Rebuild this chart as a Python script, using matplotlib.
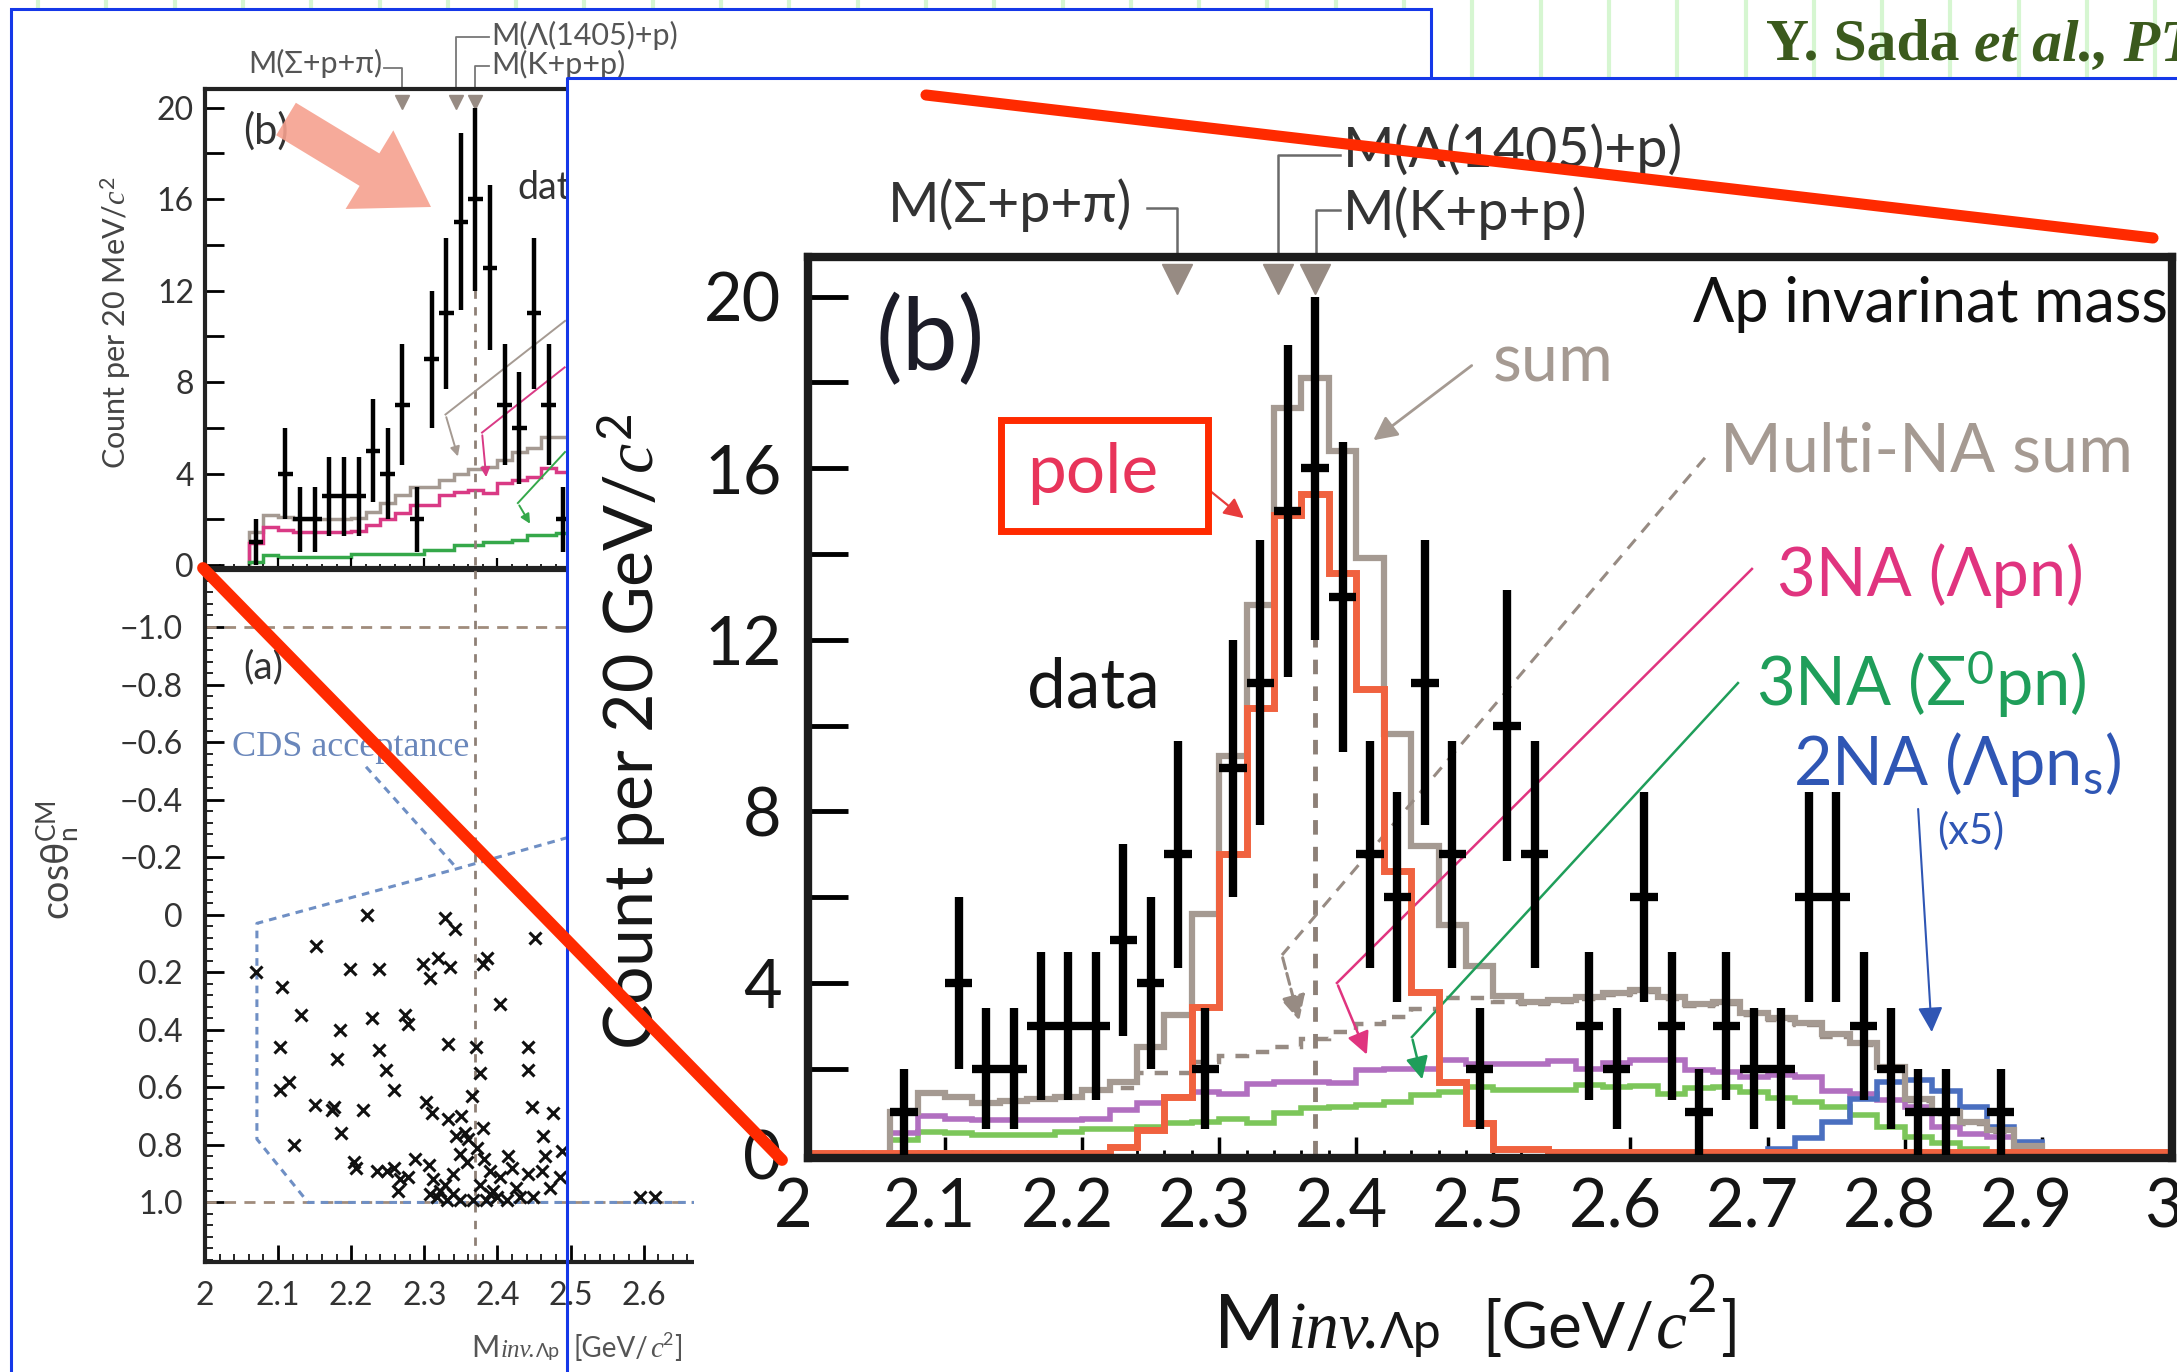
import numpy as np
import matplotlib
matplotlib.use("Agg")
import matplotlib.pyplot as plt
import matplotlib.transforms as mtransforms
from matplotlib.patches import Polygon, Rectangle, FancyArrow
from matplotlib.ticker import MultipleLocator, FuncFormatter

W, H = 2177, 1372

plt.rcParams['font.family'] = ['Lato', 'DejaVu Sans']
plt.rcParams['mathtext.fontset'] = 'custom'
plt.rcParams['mathtext.rm'] = 'Lato'
plt.rcParams['mathtext.it'] = 'Liberation Serif:italic'
plt.rcParams['mathtext.bf'] = 'Lato:bold'

# ---- Lambda-p invariant mass spectrum (20 MeV bins) ----
edges = np.round(np.arange(2.0, 3.0001, 0.02), 2)

mass = [2.07, 2.11, 2.13, 2.15, 2.17, 2.19, 2.21, 2.23, 2.25, 2.27,
        2.29, 2.31, 2.33, 2.35, 2.37, 2.39, 2.41, 2.43, 2.45, 2.47,
        2.49, 2.51, 2.53, 2.57, 2.59, 2.61, 2.63, 2.65, 2.67, 2.69,
        2.71, 2.73, 2.75, 2.77, 2.79, 2.81, 2.83, 2.87]
counts = np.array([1, 4, 2, 2, 3, 3, 3, 5, 4, 7,
                   2, 9, 11, 15, 16, 13, 7, 6, 11, 7,
                   2, 10, 7, 3, 2, 6, 3, 1, 3, 2,
                   2, 6, 6, 3, 2, 1, 1, 1])

fit_sum = [0, 0, 0, 1.0, 1.44, 1.35, 1.2, 1.25, 1.3, 1.35,
           1.5, 1.7, 2.5, 3.25, 5.6, 9.3, 12.8, 17.4, 18.1, 16.4,
           13.9, 9.8, 7.2, 5.35, 4.4, 3.7, 3.56, 3.6, 3.68, 3.76,
           3.83, 3.68, 3.52, 3.56, 3.3, 3.18, 3.06, 2.8, 2.6, 2.05,
           1.3, 1.0, 0.77, 0.57, 0.2, 0, 0, 0, 0, 0]
pole = [0.03, 0.03, 0.03, 0.03, 0.03, 0.03, 0.03, 0.03, 0.03, 0.03,
        0.03, 0.18, 0.57, 1.35, 3.45, 7.0, 10.4, 14.9, 15.4, 13.55,
        10.85, 6.6, 3.8, 1.7, 0.73, 0.14, 0.14, 0.05, 0.05, 0.05,
        0.05, 0.05, 0.05, 0.05, 0.05, 0.05, 0.05, 0.05, 0.05, 0.05,
        0.05, 0.05, 0.05, 0.05, 0.05, 0.05, 0.05, 0.05, 0.05, 0.05]
multi_na = [0, 0, 0, 1.0, 1.44, 1.35, 1.2, 1.25, 1.3, 1.35,
            1.5, 1.55, 1.9, 1.9, 2.15, 2.3, 2.4, 2.5, 2.7, 2.85,
            3.05, 3.2, 3.4, 3.65, 3.65, 3.56, 3.5, 3.55, 3.63, 3.71,
            3.78, 3.63, 3.47, 3.51, 3.25, 3.13, 3.01, 2.75, 2.55, 2.0,
            1.25, 0.95, 0.72, 0.52, 0.15, 0, 0, 0, 0, 0]
na3_lpn = [0, 0, 0, 0.5, 0.9, 0.84, 0.8, 0.8, 0.8, 0.8,
           0.84, 1.04, 1.21, 1.35, 1.46, 1.42, 1.65, 1.7, 1.7, 1.66,
           1.97, 2.0, 2.0, 2.2, 2.1, 2.1, 2.1, 2.17, 2.0, 2.13,
           2.2, 2.2, 1.97, 1.93, 1.81, 1.85, 1.81, 1.47, 1.42, 1.27,
           1.1, 0.65, 0.49, 0.42, 0.18, 0, 0, 0, 0, 0]
na3_s0pn = [0, 0, 0, 0.34, 0.53, 0.5, 0.45, 0.45, 0.45, 0.53,
            0.6, 0.6, 0.65, 0.73, 0.76, 0.84, 0.73, 0.96, 1.08, 1.12,
            1.15, 1.23, 1.39, 1.46, 1.58, 1.5, 1.5, 1.5, 1.62, 1.58,
            1.6, 1.42, 1.54, 1.58, 1.46, 1.31, 1.23, 1.11, 0.92, 0.65,
            0.42, 0.26, 0.14, 0, 0, 0, 0, 0, 0, 0]
na2_lpns_x5 = [0, 0, 0, 0, 0, 0, 0, 0, 0, 0,
               0, 0, 0, 0, 0, 0, 0, 0, 0, 0,
               0, 0, 0, 0, 0, 0, 0, 0, 0, 0,
               0, 0, 0, 0, 0, 0.14, 0.38, 0.75, 1.3, 1.68,
               1.74, 1.47, 1.11, 0.65, 0.3, 0.04, 0, 0, 0, 0]

# thresholds M(Sigma+p+pi), M(Lambda(1405)+p), M(K+p+p)
thresholds = [2.269, 2.343, 2.370]

# ---- earlier version of the spectrum (left figure) ----
edges_old = np.round(np.arange(2.0, 2.5001, 0.02), 2)
sum_old = [0, 0, 0, 1.46, 2.19, 2.1, 2.0, 2.0, 2.0, 2.0,
           2.05, 2.3, 2.7, 3.06, 3.43, 3.43, 3.7, 4.0, 4.2, 4.3,
           4.6, 4.96, 5.1, 5.6, 5.6]
lpn_old = [0, 0, 0, 0.95, 1.68, 1.55, 1.45, 1.45, 1.45, 1.45,
           1.5, 1.75, 2.0, 2.26, 2.62, 2.62, 3.06, 3.2, 3.28, 3.13,
           3.57, 3.7, 3.86, 4.23, 4.08]
s0pn_old = [0, 0, 0, 0.15, 0.44, 0.36, 0.36, 0.36, 0.36, 0.36,
            0.5, 0.5, 0.5, 0.5, 0.5, 0.66, 0.66, 0.87, 0.87, 1.02,
            1.02, 1.09, 1.31, 1.31, 1.41]

# event-by-event neutron angle vs invariant mass
cos_mass = [2.221, 2.328, 2.342, 2.451, 2.152, 2.070, 2.198, 2.238, 2.298, 2.319,
            2.335, 2.308, 2.380, 2.386, 2.106, 2.132, 2.229, 2.274, 2.278, 2.185,
            2.404, 2.102, 2.180, 2.238, 2.248, 2.333, 2.371, 2.376, 2.442, 2.442,
            2.102, 2.115, 2.259, 2.150, 2.176, 2.174, 2.216, 2.303, 2.310, 2.365,
            2.333, 2.350, 2.447, 2.476, 2.186, 2.122, 2.380, 2.462, 2.489, 2.204,
            2.207, 2.235, 2.249, 2.258, 2.267, 2.264, 2.278, 2.287, 2.306, 2.312,
            2.317, 2.328, 2.339, 2.344, 2.356, 2.360, 2.349, 2.358, 2.372, 2.381,
            2.390, 2.394, 2.404, 2.415, 2.420, 2.426, 2.442, 2.449, 2.461, 2.465,
            2.472, 2.486, 2.331, 2.349, 2.367, 2.385, 2.399, 2.321, 2.376, 2.339,
            2.390, 2.431, 2.308, 2.413, 2.595, 2.615]
cos_n = [0.00, 0.01, 0.05, 0.08, 0.11, 0.20, 0.19, 0.19, 0.17, 0.15,
         0.18, 0.22, 0.17, 0.15, 0.25, 0.35, 0.36, 0.35, 0.38, 0.40,
         0.31, 0.46, 0.50, 0.47, 0.54, 0.45, 0.46, 0.55, 0.46, 0.54,
         0.61, 0.58, 0.61, 0.66, 0.67, 0.68, 0.68, 0.65, 0.69, 0.63,
         0.71, 0.70, 0.67, 0.69, 0.76, 0.80, 0.74, 0.77, 0.82, 0.86,
         0.88, 0.89, 0.89, 0.88, 0.92, 0.96, 0.91, 0.85, 0.87, 0.92,
         0.98, 0.94, 0.90, 0.77, 0.76, 0.78, 0.83, 0.86, 0.81, 0.85,
         0.89, 0.96, 0.91, 0.84, 0.88, 0.95, 0.90, 0.98, 0.89, 0.84,
         0.95, 0.91, 0.99, 0.99, 0.99, 0.99, 0.98, 0.96, 0.94, 0.97,
         0.97, 0.98, 0.97, 0.99, 0.98, 0.98]

# CDS acceptance boundary
cds_mass = [2.75, 2.345, 2.071, 2.071, 2.141, 2.95]
cds_cos = [-0.45, -0.16, 0.03, 0.78, 1.0, 1.0]

GREY = '#a59a92'
DASH_GREY = '#978b83'
POLE_RED = '#f0623f'
PURPLE = '#b16fc0'
GREEN_LINE = '#7cc65a'
BLUE_LINE = '#4a6fc0'
MAGENTA = '#e0347f'
GREEN_TEXT = '#1f9e5a'
BLUE_TEXT = '#2f56b4'
PANEL_BLUE = '#1538e8'
MARK_RED = '#ff2a00'
INK = '#161616'

fig = plt.figure(figsize=(W / 100, H / 100), dpi=100)
renderer = fig.canvas.get_renderer()


def rect(x0, y0, x1, y1):
    return [x0 / W, 1 - y1 / H, (x1 - x0) / W, (y1 - y0) / H]


def pixel_axes(z):
    a = fig.add_axes([0, 0, 1, 1])
    a.set_xlim(0, W)
    a.set_ylim(H, 0)
    a.set_axis_off()
    a.set_zorder(z)
    return a


def chain(ax, x, y, parts, trans, ha='left', **common):
    # lay out text pieces of different fonts one after another on one baseline
    placed, width = [], 0.0
    for s, kw in parts:
        kw = dict(kw)
        dy = kw.pop('dy', 0)
        width += kw.pop('gap', 0)
        props = {**common, **kw}
        t = ax.text(0, y - dy, s, transform=trans, ha='left', va='baseline',
                    clip_on=False, **props)
        placed.append((t, width))
        width += t.get_window_extent(renderer).width
    x0 = x - width / 2 if ha == 'center' else x
    for t, off in placed:
        t.set_x(x0 + off)


def hist(ax, values, bin_edges, **kw):
    # draw a step histogram only over the bins where it is populated
    values = np.asarray(values, dtype=float)
    idx = np.nonzero(values)[0]
    lo, hi = idx[0], idx[-1] + 1
    return ax.stairs(values[lo:hi], bin_edges[lo:hi + 1], **kw)


def mass_label(v, pos=None):
    s = f'{v:.1f}'
    return s[:-2] if s.endswith('.0') else s


def every_fourth(v, pos=None):
    return f'{v:.0f}' if int(round(v)) % 4 == 0 else ''


def cos_label(v, pos=None):
    if abs(v) < 1e-9:
        return '0'
    return f'{v:.1f}'.replace('-', '\u2212')


# ---- slide background and left figure frame ----
bg = pixel_axes(0)
for gx in np.arange(38, W, 68.3):
    bg.plot([gx, gx], [0, H], color='#d6f6d1', lw=3, zorder=0)
bg.add_patch(Rectangle((11, 9), 1420, H, facecolor='white',
                       edgecolor=PANEL_BLUE, lw=2.2, zorder=1))

# ---- left figure: (b) spectrum ----
axb = fig.add_axes(rect(205, 89.2, 936, 569.6))
axb.set_zorder(1)
axb.patch.set_visible(False)
hist(axb, sum_old, edges_old, color=GREY, lw=2.5)
hist(axb, lpn_old, edges_old, color='#d93a85', lw=2.5)
hist(axb, s0pn_old, edges_old, color='#35a84a', lw=2.5)
axb.plot([2.37, 2.37], [0, 20], ls=(0, (3, 3)), color='#8e8076', lw=2)
axb.errorbar(mass, counts, yerr=np.sqrt(counts), xerr=0.01, fmt='none',
             ecolor='black', elinewidth=3.2, capsize=0, zorder=4)
axb.plot(thresholds, [20.25] * 3, 'v', ms=10, color=DASH_GREY, clip_on=False)
axb.set_xlim(2, 3)
axb.set_ylim(-0.2, 20.8)
axb.yaxis.set_major_locator(MultipleLocator(2))
axb.yaxis.set_major_formatter(FuncFormatter(every_fourth))
axb.xaxis.set_major_locator(MultipleLocator(0.1))
axb.xaxis.set_minor_locator(MultipleLocator(0.02))
axb.tick_params(axis='y', direction='in', length=14, width=2, labelsize=23,
                pad=8, labelcolor='#333')
axb.tick_params(axis='x', which='major', direction='in', length=9, width=1.6,
                labelbottom=False)
axb.tick_params(axis='x', which='minor', direction='in', length=4, width=1.2)
for sp in axb.spines.values():
    sp.set_linewidth(3)
    sp.set_color('#222')

axb.text(2.052, 18.4, '(b)', fontsize=30, color='#333', clip_on=False)
axb.text(2.428, 16.0, 'data', fontsize=27, color='#333', clip_on=False)
axb.text(2.242, 21.5, 'M(Σ+p+π)', fontsize=22, color='#555', ha='right', clip_on=False)
axb.text(2.391, 22.75, 'M(Λ(1405)+p)', fontsize=22, color='#555', clip_on=False)
axb.text(2.391, 21.45, 'M(K+p+p)', fontsize=22, color='#555', clip_on=False)
axb.plot([2.245, 2.269, 2.269], [21.73, 21.73, 20.8], color='#777', lw=1.3, clip_on=False)
axb.plot([2.389, 2.343, 2.343], [23.08, 23.08, 20.8], color='#777', lw=1.3, clip_on=False)
axb.plot([2.389, 2.370, 2.370], [21.8, 21.8, 20.8], color='#777', lw=1.3, clip_on=False)
for (x0, y0), (x1, y1), (x2, y2), c in [((2.4925, 10.67), (2.329, 6.58), (2.347, 4.63), GREY),
                                       ((2.492, 8.64), (2.379, 5.79), (2.385, 3.72), '#d93a85'),
                                       ((2.4925, 4.94), (2.428, 2.71), (2.4466, 1.70), '#35a84a')]:
    axb.plot([x0, x1], [y0, y1], color=c, lw=1.4)
    axb.annotate('', xy=(x2, y2), xytext=(x1, y1),
                 arrowprops=dict(arrowstyle='-|>', color=c, lw=1.4, mutation_scale=14))
axb.text(116, 323, r'Count per 20 MeV/$\mathit{c}^{2}$', transform=bg.transData,
         rotation=90, ha='center', va='center', fontsize=22, color='#444', clip_on=False)

# ---- left figure: (a) cos(theta_n) vs mass ----
axa = fig.add_axes(rect(205, 568, 936, 1262))
axa.set_zorder(1)
axa.patch.set_visible(False)
axa.set_xlim(2, 3)
axa.set_ylim(1.207, -1.205)
for yy in (-1.0, 1.0):
    axa.axhline(yy, ls=(0, (4, 3)), color='#a08c7c', lw=2)
axa.axvline(2.37, ls=(0, (3, 3)), color='#8e8076', lw=2)
axa.plot(cds_mass, cds_cos, ls=(0, (2.5, 2)), color='#6f8fc4', lw=2.2)
axa.plot([2.2203, 2.345], [-0.514, -0.16], ls=(0, (2.5, 2)), color='#6f8fc4', lw=2.2)
axa.plot(cos_mass, cos_n, 'x', ls='none', color='#111', ms=8, mew=2.2)
axa.text(2.052, -0.82, '(a)', fontsize=28, color='#333', clip_on=False)
axa.text(2.037, -0.55, 'CDS acceptance', fontsize=26, color='#6a87bb',
         family='Liberation Serif', clip_on=False)
axa.set_yticks(np.round(np.arange(-1.0, 1.001, 0.2), 1))
axa.yaxis.set_minor_locator(MultipleLocator(0.04))
axa.yaxis.set_major_formatter(FuncFormatter(cos_label))
axa.xaxis.set_major_locator(MultipleLocator(0.1))
axa.xaxis.set_minor_locator(MultipleLocator(0.02))
axa.xaxis.set_major_formatter(FuncFormatter(mass_label))
axa.tick_params(axis='y', which='major', direction='in', length=14, width=2,
                labelsize=23, pad=16, labelcolor='#333')
axa.tick_params(axis='y', which='minor', direction='in', length=6, width=1.2)
axa.tick_params(axis='x', which='major', direction='in', length=12, width=2,
                labelsize=23, pad=14, labelcolor='#333')
axa.tick_params(axis='x', which='minor', direction='in', length=6, width=1.2)
for sp in axa.spines.values():
    sp.set_linewidth(3)
    sp.set_color('#222')
axa.text(58, 860, r'cosθ$_{\mathrm{n}}^{\mathrm{CM}}$', transform=bg.transData,
         rotation=90, ha='center', va='center', fontsize=27, color='#444', clip_on=False)
chain(axa, 577, 1357,
      [('M', dict(fontsize=22)),
       ('inv.', dict(fontsize=18, family='Liberation Serif', style='italic', gap=1)),
       ('Λp', dict(fontsize=14)),
       ('[GeV/', dict(fontsize=20, gap=14)),
       ('c', dict(fontsize=21, family='Liberation Serif', style='italic', gap=1)),
       ('2', dict(fontsize=13, dy=12)),
       (']', dict(fontsize=20, gap=1))],
      bg.transData, ha='center', color='#555')

# ---- right figure: zoomed spectrum ----
cover = pixel_axes(2)
cover.add_patch(Polygon([(567, 78), (W, 78), (W, H), (694, H), (694, 1185), (567, 1185)],
                        closed=True, facecolor='white', edgecolor='none'))
cover.plot([567, 567, W], [H, 78, 78], color=PANEL_BLUE, lw=2.2)

ax = fig.add_axes(rect(807.9, 256.6, 2172, 1158))
ax.set_zorder(3)
ax.patch.set_visible(False)

hist(ax, multi_na, edges, color=DASH_GREY, lw=3.2, ls=(0, (3, 2.5)), zorder=1.5)
hist(ax, na3_s0pn, edges, color=GREEN_LINE, lw=4, zorder=1.7)
hist(ax, na3_lpn, edges, color=PURPLE, lw=4, zorder=1.8)
hist(ax, na2_lpns_x5, edges, color=BLUE_LINE, lw=4, zorder=1.9)
hist(ax, fit_sum, edges, color=GREY, lw=4.5, zorder=2.0)
hist(ax, pole, edges, color=POLE_RED, lw=5, zorder=2.2)
ax.plot([2.37, 2.37], [0, 19.9], ls=(0, (3, 2.5)), color='#8d8077', lw=3.5, zorder=1.6)
ax.errorbar(mass, counts, yerr=np.sqrt(counts), xerr=0.01, fmt='none',
            ecolor='black', elinewidth=6, capsize=0, zorder=6)

ax.set_xlim(2.0, 2.995)
ax.set_ylim(-0.08, 20.93)
ax.xaxis.set_major_locator(MultipleLocator(0.1))
ax.xaxis.set_minor_locator(MultipleLocator(0.02))
ax.xaxis.set_major_formatter(FuncFormatter(mass_label))
ax.yaxis.set_major_locator(MultipleLocator(2))
ax.yaxis.set_major_formatter(FuncFormatter(every_fourth))
ax.tick_params(axis='x', which='major', direction='in', length=15, width=2.5,
               labelsize=48, pad=14, labelcolor=INK)
ax.tick_params(axis='x', which='minor', direction='in', length=6, width=2)
ax.tick_params(axis='y', direction='in', length=29, width=3.5, labelsize=48,
               pad=19, labelcolor=INK)
for sp in ax.spines.values():
    sp.set_linewidth(6)
    sp.set_color('#1c1c1c')

shift = mtransforms.ScaledTranslation(-15 / 100, 0, fig.dpi_scale_trans)
for lab in ax.get_xticklabels():
    lab.set_transform(lab.get_transform() + shift)
ax.text(3.0, 0, '3', fontsize=48, color=INK, ha='center', va='top', clip_on=False,
        transform=ax.get_xaxis_transform()
        + mtransforms.ScaledTranslation(-15 / 100, -14 / 72, fig.dpi_scale_trans))

ax.set_ylabel(r'Count per 20 GeV/$\mathit{c}^{2}$', fontsize=49, color=INK, va='center')
ax.yaxis.set_label_coords(-0.129, 0.4726)
chain(cover, 1477, 1348,
      [('M', dict(fontsize=55)),
       ('inv.', dict(fontsize=48, family='Liberation Serif', style='italic', gap=2)),
       ('Λp', dict(fontsize=36)),
       ('[GeV/', dict(fontsize=46, gap=40)),
       ('c', dict(fontsize=50, family='Liberation Serif', style='italic', gap=2)),
       ('2', dict(fontsize=38, dy=36)),
       (']', dict(fontsize=46, gap=3))],
      cover.transData, ha='center', color=INK)

# threshold markers on the top frame
ax.plot(thresholds, [20.4] * 3, 'v', ms=22, ls='none', color=DASH_GREY,
        clip_on=False, zorder=7)
ax.plot([2.2477, 2.269, 2.269], [22.07, 22.07, 20.93], color='#6a6a6a', lw=1.8, clip_on=False)
ax.plot([2.388, 2.343, 2.343], [23.3, 23.3, 20.93], color='#6a6a6a', lw=1.8, clip_on=False)
ax.plot([2.388, 2.3703, 2.3703], [22.02, 22.02, 20.93], color='#6a6a6a', lw=1.8, clip_on=False)
ax.text(2.2365, 21.74, 'M(Σ+p+π)', fontsize=40, color='#333', ha='right', clip_on=False)
ax.text(2.390, 23.03, 'M(Λ(1405)+p)', fontsize=40, color='#333', clip_on=False)
ax.text(2.390, 21.55, 'M(K+p+p)', fontsize=40, color='#333', clip_on=False)

# labels inside the frame
ax.text(2.049, 18.29, '(b)', fontsize=72, color='#1c1c28')
ax.text(2.992, 19.41, 'Λp invarinat mass', fontsize=44, color='#111', ha='right')
ax.text(2.4997, 18.01, 'sum', fontsize=48, color=GREY)
ax.text(2.665, 15.92, 'Multi-NA sum', fontsize=48, color=GREY)
ax.text(2.160, 15.41, 'pole', fontsize=50, color='#e8345a')
ax.text(2.160, 10.42, 'data', fontsize=50, color='#151515')
ax.text(2.7072, 13.01, '3NA (Λpn)', fontsize=48, color=MAGENTA)
ax.text(2.6918, 10.45, r'3NA (Σ$^{0}$pn)', fontsize=48, color=GREEN_TEXT)
ax.text(2.7185, 8.61, r'2NA (Λpn$_{\mathrm{s}}$)', fontsize=48, color=BLUE_TEXT)
ax.text(2.8235, 7.24, '(x5)', fontsize=30, color=BLUE_TEXT)

# leader lines and arrows
ax.annotate('', xy=(2.4108, 16.61), xytext=(2.4858, 18.43),
            arrowprops=dict(arrowstyle='-|>', color=GREY, lw=2, mutation_scale=36))
ax.annotate('', xy=(2.3196, 14.79), xytext=(2.2918, 15.51),
            arrowprops=dict(arrowstyle='-|>', color='#e83c3c', lw=1.6, mutation_scale=30))
ax.plot([2.6543, 2.3458], [16.24, 4.65], ls=(0, (4, 3)), color=DASH_GREY, lw=2.2)
ax.annotate('', xy=(2.3589, 3.06), xytext=(2.3458, 4.65),
            arrowprops=dict(arrowstyle='-|>', color=DASH_GREY, lw=2.2, ls='--',
                            mutation_scale=38))
ax.plot([2.6886, 2.3859], [13.65, 4.0], color=MAGENTA, lw=1.8)
ax.annotate('', xy=(2.4085, 2.27), xytext=(2.3859, 4.0),
            arrowprops=dict(arrowstyle='-|>', color=MAGENTA, lw=1.8, mutation_scale=34))
ax.plot([2.6784, 2.4406], [10.99, 2.74], color=GREEN_TEXT, lw=1.8)
ax.annotate('', xy=(2.4486, 1.69), xytext=(2.4406, 2.74),
            arrowprops=dict(arrowstyle='-|>', color=GREEN_TEXT, lw=1.8, mutation_scale=34))
ax.annotate('', xy=(2.8199, 2.79), xytext=(2.8097, 8.12),
            arrowprops=dict(arrowstyle='-|>', color=BLUE_TEXT, lw=1.5, mutation_scale=38))

# ---- hand-drawn marks and citation on top ----
overlay = pixel_axes(5)
overlay.plot([926, 2153], [95, 238], color=MARK_RED, lw=8, solid_capstyle='round')
overlay.plot([203, 782], [568, 1160], color=MARK_RED, lw=8.5, solid_capstyle='round')
overlay.add_patch(Rectangle((1001, 420), 207, 111, fill=False, ec=MARK_RED, lw=5))
overlay.add_patch(FancyArrow(286, 119, 145, 88, width=38, head_width=92, head_length=72,
                             length_includes_head=True, color='#f6a18f', alpha=0.9, lw=0))
chain(overlay, 1766, 60,
      [('Y. Sada', dict()),
       ('et al., PTEP 2016, 051D01', dict(style='italic', gap=14))],
      overlay.transData, family='Liberation Serif', weight='bold',
      fontsize=43, color='#3b5a1d')

fig.savefig('out.png', dpi=100)
